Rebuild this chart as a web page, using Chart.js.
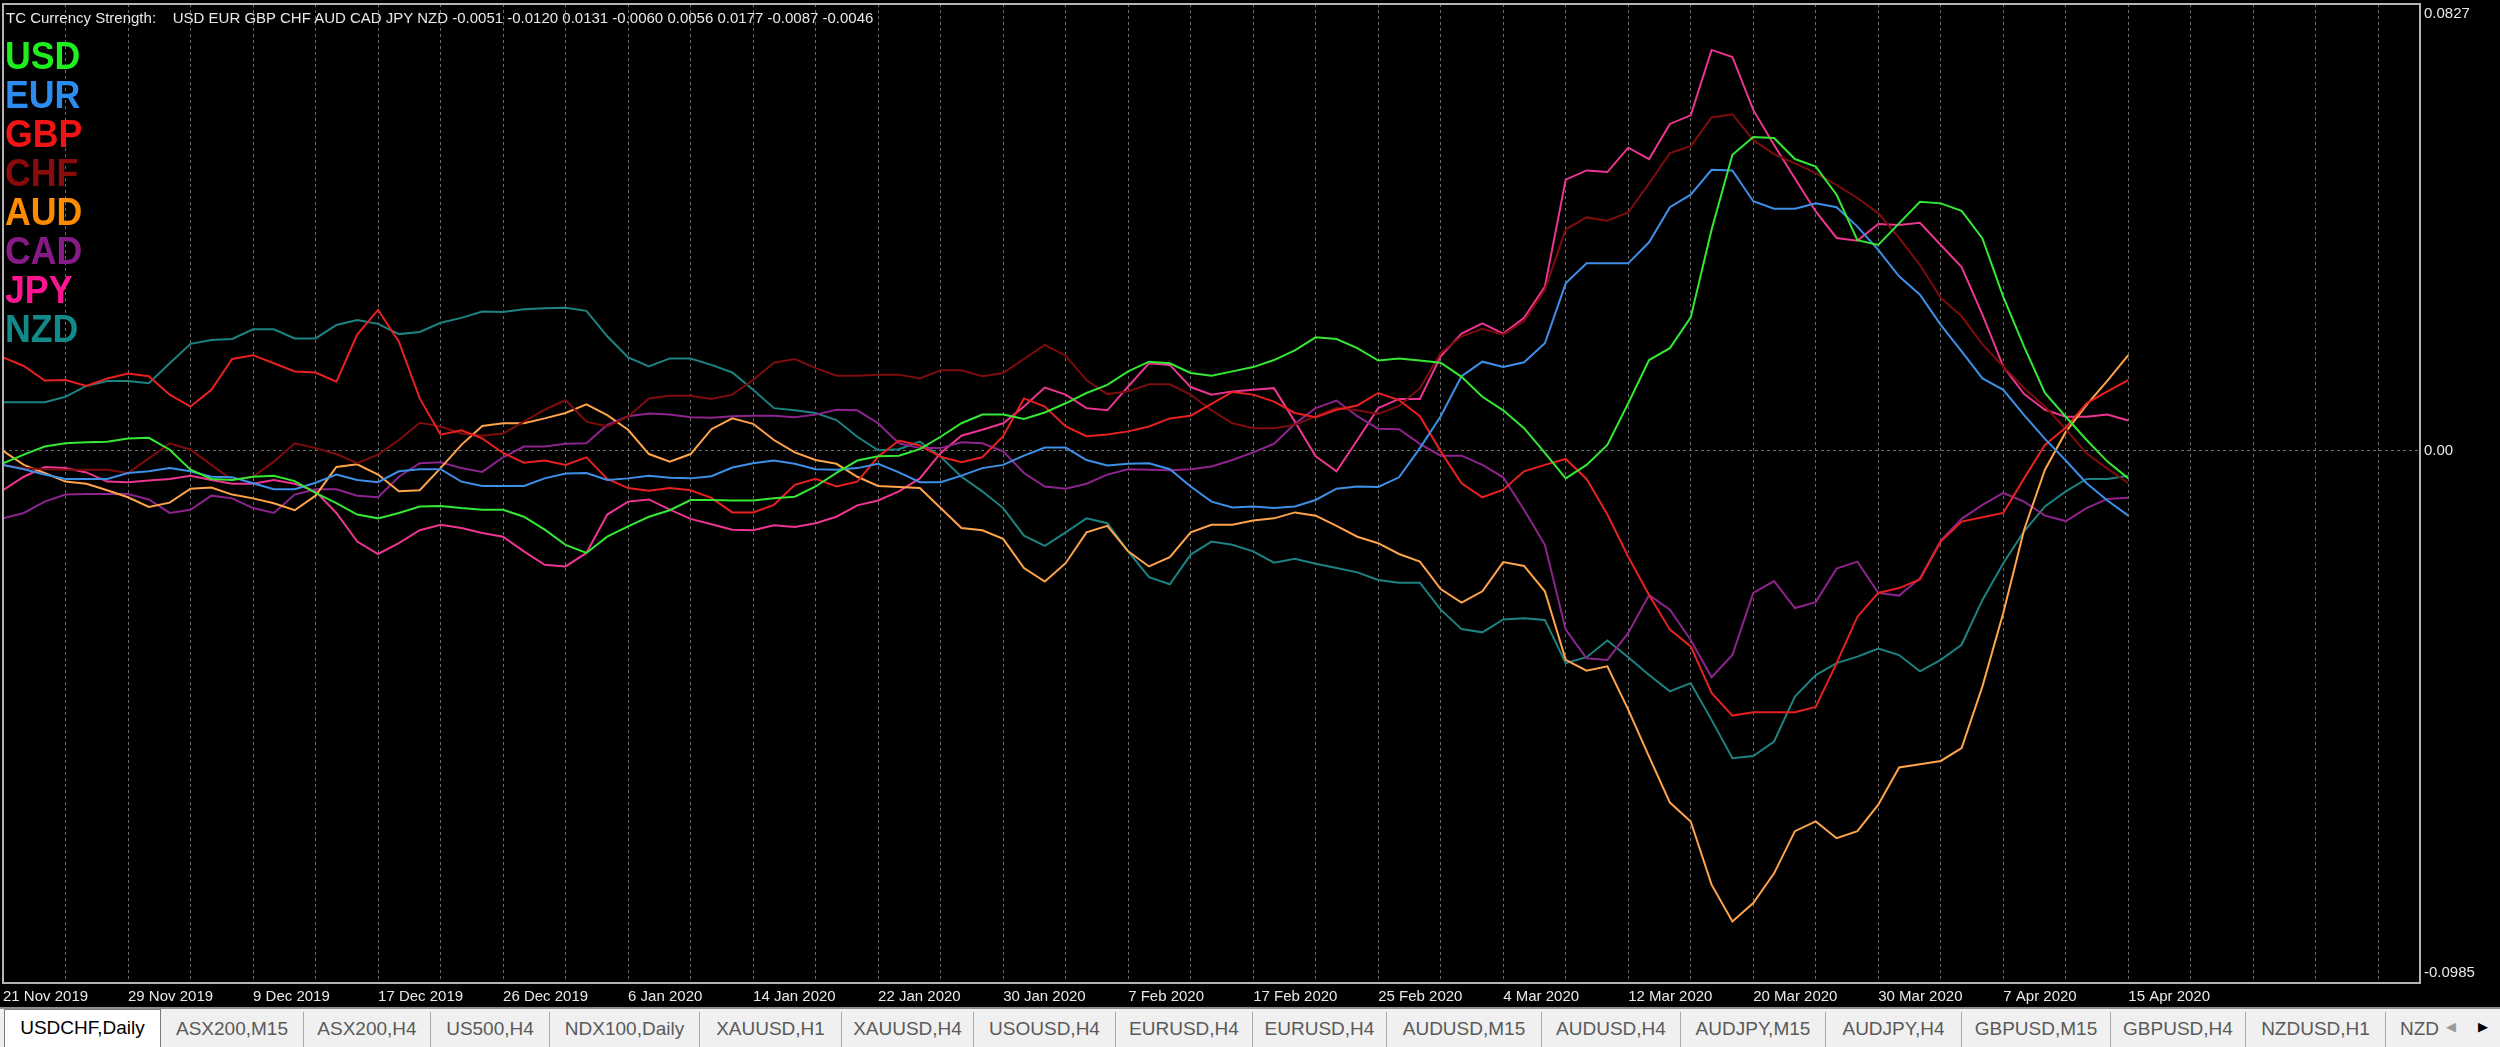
<!DOCTYPE html>
<html>
<head>
<meta charset="utf-8">
<script src="https://cdn.jsdelivr.net/npm/chart.js@4.4.1/dist/chart.umd.min.js"></script>
<style>
html,body{margin:0;padding:0;background:#000;width:2500px;height:1047px;overflow:hidden;font-family:"Liberation Sans",Arial,sans-serif;}
#wrap{position:absolute;left:0;top:0;width:2500px;height:1007px;}
#hdr{position:absolute;left:6px;top:9px;color:#e8e8e8;font-size:15px;line-height:17px;white-space:pre;z-index:2;}
#legend{position:absolute;left:5px;top:37px;z-index:2;}
#legend div{font-weight:bold;font-size:38px;line-height:39px;height:39px;transform:scaleX(0.94);transform-origin:0 50%;}
#tabs{position:absolute;left:0;top:1007px;width:2500px;height:40px;background:#f0f0f0;border-top:2px solid #8c8c8c;box-sizing:border-box;display:flex;padding-left:4px;overflow:hidden;}
.tab{flex:none;box-sizing:border-box;height:35px;margin-top:3px;border-right:1px solid #a8a8a8;color:#5a5a5a;font-size:19px;line-height:33px;text-align:center;white-space:nowrap;overflow:hidden;}
.tab.active{background:#fff;color:#000;border:1px solid #7a7a7a;border-bottom:none;margin-top:0;height:38px;line-height:36px;}
#arrows{position:absolute;left:2440px;top:1009px;width:60px;height:38px;background:#f0f0f0;font-size:13px;line-height:36px;}
#arrows span{position:absolute;top:0;}
</style>
</head>
<body>
<div id="wrap"><canvas id="c" width="2500" height="1007"></canvas></div>
<div id="hdr">TC Currency Strength:    USD EUR GBP CHF AUD CAD JPY NZD -0.0051 -0.0120 0.0131 -0.0060 0.0056 0.0177 -0.0087 -0.0046</div>
<div id="legend"></div>
<div id="tabs">
<div class="tab active" style="width:157px">USDCHF,Daily</div>
<div class="tab" style="width:143px">ASX200,M15</div>
<div class="tab" style="width:127px">ASX200,H4</div>
<div class="tab" style="width:119px">US500,H4</div>
<div class="tab" style="width:150px">NDX100,Daily</div>
<div class="tab" style="width:142px">XAUUSD,H1</div>
<div class="tab" style="width:132px">XAUUSD,H4</div>
<div class="tab" style="width:142px">USOUSD,H4</div>
<div class="tab" style="width:137px">EURUSD,H4</div>
<div class="tab" style="width:134px">EURUSD,H4</div>
<div class="tab" style="width:155px">AUDUSD,M15</div>
<div class="tab" style="width:139px">AUDUSD,H4</div>
<div class="tab" style="width:145px">AUDJPY,M15</div>
<div class="tab" style="width:136px">AUDJPY,H4</div>
<div class="tab" style="width:149px">GBPUSD,M15</div>
<div class="tab" style="width:135px">GBPUSD,H4</div>
<div class="tab" style="width:140px">NZDUSD,H1</div>
<div class="tab" style="width:80px;text-align:left;padding-left:14px;border-right:none">NZDUSD,H4</div>
</div>
<div id="arrows"><span style="left:6px;color:#9a9a9a">&#9664;</span><span style="left:38px;color:#000">&#9654;</span></div>
<script>
// ---- data ----
const dates = [
 '21 Nov 2019','22 Nov 2019','25 Nov 2019','26 Nov 2019','27 Nov 2019','28 Nov 2019','29 Nov 2019',
 '2 Dec 2019','3 Dec 2019','4 Dec 2019','5 Dec 2019','6 Dec 2019','9 Dec 2019','10 Dec 2019','11 Dec 2019','12 Dec 2019','13 Dec 2019',
 '16 Dec 2019','17 Dec 2019','18 Dec 2019','19 Dec 2019','20 Dec 2019','23 Dec 2019','24 Dec 2019','26 Dec 2019','27 Dec 2019','30 Dec 2019','31 Dec 2019',
 '2 Jan 2020','3 Jan 2020','6 Jan 2020','7 Jan 2020','8 Jan 2020','9 Jan 2020','10 Jan 2020','13 Jan 2020','14 Jan 2020','15 Jan 2020','16 Jan 2020','17 Jan 2020',
 '20 Jan 2020','21 Jan 2020','22 Jan 2020','23 Jan 2020','24 Jan 2020','27 Jan 2020','28 Jan 2020','29 Jan 2020','30 Jan 2020','31 Jan 2020',
 '3 Feb 2020','4 Feb 2020','5 Feb 2020','6 Feb 2020','7 Feb 2020','10 Feb 2020','11 Feb 2020','12 Feb 2020','13 Feb 2020','14 Feb 2020',
 '17 Feb 2020','18 Feb 2020','19 Feb 2020','20 Feb 2020','21 Feb 2020','24 Feb 2020','25 Feb 2020','26 Feb 2020','27 Feb 2020','28 Feb 2020',
 '2 Mar 2020','3 Mar 2020','4 Mar 2020','5 Mar 2020','6 Mar 2020','9 Mar 2020','10 Mar 2020','11 Mar 2020','12 Mar 2020','13 Mar 2020',
 '16 Mar 2020','17 Mar 2020','18 Mar 2020','19 Mar 2020','20 Mar 2020','23 Mar 2020','24 Mar 2020','25 Mar 2020','26 Mar 2020','27 Mar 2020',
 '30 Mar 2020','31 Mar 2020','1 Apr 2020','2 Apr 2020','3 Apr 2020','6 Apr 2020','7 Apr 2020','8 Apr 2020','9 Apr 2020','10 Apr 2020',
 '13 Apr 2020','14 Apr 2020','15 Apr 2020'
];

const usd = [
 -0.0023,-0.0007,0.0008,0.0014,0.0016,0.0017,0.0023,0.0024,0.0002,-0.0035,
 -0.0052,-0.0054,-0.0048,-0.0046,-0.0056,-0.0078,-0.0097,-0.0118,-0.0125,-0.0115,
 -0.0103,-0.0102,-0.0106,-0.0109,-0.0109,-0.0122,-0.0146,-0.0174,-0.0189,-0.0159,
 -0.0140,-0.0122,-0.0110,-0.0091,-0.0091,-0.0092,-0.0092,-0.0088,-0.0085,-0.0066,
 -0.0041,-0.0018,-0.0010,-0.0009,0.0003,0.0026,0.0051,0.0067,0.0067,0.0059,
 0.0071,0.0088,0.0107,0.0122,0.0147,0.0165,0.0162,0.0144,0.0139,0.0147,
 0.0155,0.0168,0.0186,0.0210,0.0207,0.0190,0.0167,0.0171,0.0167,0.0163,
 0.0137,0.0100,0.0075,0.0042,-0.0004,-0.0051,-0.0026,0.0011,0.0088,0.0168,
 0.0190,0.0247,0.0409,0.0548,0.0581,0.0579,0.0540,0.0526,0.0474,0.0390,
 0.0381,0.0421,0.0461,0.0458,0.0444,0.0393,0.0285,0.0193,0.0107,0.0063,
 0.0020,-0.0020,-0.0051
];
const eur = [
 -0.0026,-0.0034,-0.0044,-0.0052,-0.0052,-0.0052,-0.0041,-0.0038,-0.0032,-0.0038,
 -0.0048,-0.0049,-0.0060,-0.0071,-0.0071,-0.0059,-0.0044,-0.0054,-0.0058,-0.0038,
 -0.0034,-0.0034,-0.0057,-0.0065,-0.0065,-0.0065,-0.0051,-0.0042,-0.0041,-0.0054,
 -0.0051,-0.0046,-0.0050,-0.0051,-0.0047,-0.0031,-0.0023,-0.0018,-0.0024,-0.0034,
 -0.0035,-0.0032,-0.0024,-0.0040,-0.0058,-0.0058,-0.0046,-0.0032,-0.0026,-0.0009,
 0.0006,0.0006,-0.0017,-0.0027,-0.0024,-0.0023,-0.0034,-0.0066,-0.0094,-0.0105,
 -0.0103,-0.0106,-0.0103,-0.0091,-0.0070,-0.0066,-0.0067,-0.0049,0.0005,0.0064,
 0.0138,0.0165,0.0155,0.0164,0.0199,0.0310,0.0347,0.0347,0.0347,0.0386,
 0.0451,0.0474,0.0520,0.0519,0.0462,0.0448,0.0448,0.0458,0.0451,0.0415,
 0.0372,0.0323,0.0289,0.0233,0.0184,0.0134,0.0113,0.0066,0.0022,-0.0018,
 -0.0060,-0.0092,-0.0120
];
const gbp = [
 0.0173,0.0157,0.0130,0.0131,0.0120,0.0134,0.0143,0.0138,0.0104,0.0082,
 0.0113,0.0170,0.0177,0.0162,0.0147,0.0145,0.0128,0.0215,0.0261,0.0202,
 0.0097,0.0030,0.0038,0.0023,-0.0004,-0.0022,-0.0018,-0.0026,-0.0012,-0.0052,
 -0.0069,-0.0074,-0.0069,-0.0073,-0.0087,-0.0114,-0.0114,-0.0100,-0.0063,-0.0052,
 -0.0066,-0.0057,-0.0011,0.0019,0.0010,-0.0011,-0.0021,-0.0012,0.0027,0.0097,
 0.0082,0.0045,0.0027,0.0030,0.0036,0.0045,0.0060,0.0065,0.0087,0.0109,
 0.0104,0.0091,0.0070,0.0062,0.0076,0.0084,0.0107,0.0094,0.0064,-0.0001,
 -0.0060,-0.0086,-0.0072,-0.0038,-0.0026,-0.0015,-0.0052,-0.0118,-0.0196,-0.0267,
 -0.0331,-0.0362,-0.0448,-0.0490,-0.0484,-0.0484,-0.0484,-0.0474,-0.0393,-0.0307,
 -0.0263,-0.0254,-0.0238,-0.0168,-0.0131,-0.0123,-0.0115,-0.0051,0.0011,0.0043,
 0.0088,0.0110,0.0131
];
const chf = [
 -0.0026,-0.0032,-0.0034,-0.0035,-0.0035,-0.0035,-0.0041,-0.0014,0.0014,0.0002,
 -0.0026,-0.0054,-0.0048,-0.0020,0.0014,0.0005,-0.0006,-0.0023,-0.0007,0.0020,
 0.0052,0.0045,0.0032,0.0028,0.0032,0.0054,0.0076,0.0094,0.0054,0.0045,
 0.0063,0.0097,0.0102,0.0102,0.0096,0.0104,0.0131,0.0163,0.0170,0.0153,
 0.0139,0.0139,0.0141,0.0141,0.0134,0.0149,0.0149,0.0138,0.0144,0.0170,
 0.0196,0.0176,0.0131,0.0105,0.0110,0.0123,0.0123,0.0104,0.0075,0.0051,
 0.0042,0.0042,0.0048,0.0064,0.0079,0.0075,0.0068,0.0083,0.0116,0.0181,
 0.0212,0.0226,0.0215,0.0240,0.0298,0.0410,0.0432,0.0426,0.0441,0.0495,
 0.0551,0.0564,0.0617,0.0623,0.0575,0.0549,0.0532,0.0514,0.0492,0.0468,
 0.0440,0.0394,0.0344,0.0283,0.0249,0.0197,0.0156,0.0116,0.0082,0.0040,
 -0.0005,-0.0033,-0.0060
];
const aud = [
 0.0000,-0.0026,-0.0041,-0.0057,-0.0061,-0.0073,-0.0086,-0.0104,-0.0096,-0.0070,
 -0.0068,-0.0081,-0.0088,-0.0097,-0.0110,-0.0083,-0.0030,-0.0025,-0.0044,-0.0075,
 -0.0073,-0.0032,0.0011,0.0046,0.0051,0.0051,0.0060,0.0070,0.0086,0.0066,
 0.0039,-0.0006,-0.0020,-0.0006,0.0040,0.0060,0.0050,0.0020,-0.0003,-0.0017,
 -0.0024,-0.0048,-0.0065,-0.0067,-0.0069,-0.0106,-0.0143,-0.0147,-0.0163,-0.0217,
 -0.0242,-0.0208,-0.0151,-0.0139,-0.0186,-0.0214,-0.0197,-0.0151,-0.0137,-0.0137,
 -0.0129,-0.0125,-0.0114,-0.0120,-0.0139,-0.0159,-0.0171,-0.0191,-0.0205,-0.0256,
 -0.0281,-0.0260,-0.0206,-0.0213,-0.0260,-0.0387,-0.0407,-0.0399,-0.0479,-0.0566,
 -0.0651,-0.0686,-0.0803,-0.0871,-0.0837,-0.0782,-0.0704,-0.0686,-0.0717,-0.0704,
 -0.0655,-0.0586,-0.0580,-0.0574,-0.0550,-0.0436,-0.0300,-0.0146,-0.0035,0.0035,
 0.0085,0.0130,0.0177
];
const cad = [
 -0.0125,-0.0115,-0.0094,-0.0081,-0.0080,-0.0080,-0.0080,-0.0090,-0.0115,-0.0109,
 -0.0083,-0.0088,-0.0106,-0.0115,-0.0081,-0.0071,-0.0071,-0.0083,-0.0086,-0.0048,
 -0.0023,-0.0021,-0.0032,-0.0039,-0.0012,0.0008,0.0008,0.0013,0.0014,0.0048,
 0.0064,0.0069,0.0067,0.0062,0.0061,0.0064,0.0065,0.0065,0.0062,0.0067,
 0.0076,0.0075,0.0051,0.0014,0.0005,0.0005,0.0016,0.0014,-0.0001,-0.0041,
 -0.0066,-0.0070,-0.0061,-0.0044,-0.0034,-0.0035,-0.0036,-0.0034,-0.0029,-0.0017,
 -0.0003,0.0013,0.0050,0.0079,0.0093,0.0064,0.0041,0.0040,0.0013,-0.0009,
 -0.0009,-0.0026,-0.0049,-0.0109,-0.0174,-0.0331,-0.0384,-0.0387,-0.0337,-0.0267,
 -0.0294,-0.0350,-0.0419,-0.0378,-0.0263,-0.0241,-0.0291,-0.0280,-0.0218,-0.0205,
 -0.0263,-0.0268,-0.0236,-0.0166,-0.0126,-0.0100,-0.0078,-0.0094,-0.0120,-0.0130,
 -0.0106,-0.0089,-0.0087
];
const jpy = [
 -0.0073,-0.0048,-0.0030,-0.0032,-0.0040,-0.0057,-0.0058,-0.0055,-0.0052,-0.0046,
 -0.0054,-0.0061,-0.0061,-0.0054,-0.0061,-0.0075,-0.0115,-0.0168,-0.0191,-0.0171,
 -0.0147,-0.0137,-0.0143,-0.0152,-0.0159,-0.0186,-0.0211,-0.0214,-0.0189,-0.0118,
 -0.0094,-0.0090,-0.0109,-0.0126,-0.0136,-0.0146,-0.0147,-0.0138,-0.0141,-0.0134,
 -0.0122,-0.0101,-0.0092,-0.0075,-0.0051,-0.0004,0.0028,0.0039,0.0051,0.0082,
 0.0117,0.0104,0.0079,0.0075,0.0119,0.0162,0.0159,0.0118,0.0104,0.0110,
 0.0113,0.0116,0.0054,-0.0010,-0.0038,0.0020,0.0079,0.0096,0.0096,0.0175,
 0.0217,0.0236,0.0217,0.0246,0.0304,0.0502,0.0519,0.0516,0.0561,0.0540,
 0.0605,0.0621,0.0742,0.0729,0.0631,0.0566,0.0504,0.0443,0.0394,0.0389,
 0.0420,0.0418,0.0422,0.0381,0.0340,0.0252,0.0156,0.0105,0.0076,0.0063,
 0.0063,0.0067,0.0056
];
const nzd = [
 0.0090,0.0090,0.0090,0.0100,0.0120,0.0129,0.0129,0.0125,0.0162,0.0198,
 0.0205,0.0207,0.0225,0.0225,0.0208,0.0208,0.0233,0.0242,0.0235,0.0216,
 0.0220,0.0237,0.0246,0.0258,0.0257,0.0262,0.0264,0.0265,0.0259,0.0212,
 0.0173,0.0156,0.0171,0.0171,0.0159,0.0145,0.0113,0.0079,0.0075,0.0070,
 0.0057,0.0026,0.0001,0.0003,0.0017,-0.0011,-0.0048,-0.0075,-0.0106,-0.0157,
 -0.0176,-0.0151,-0.0125,-0.0134,-0.0186,-0.0234,-0.0247,-0.0192,-0.0168,-0.0174,
 -0.0186,-0.0207,-0.0200,-0.0209,-0.0217,-0.0225,-0.0239,-0.0244,-0.0244,-0.0294,
 -0.0330,-0.0336,-0.0312,-0.0310,-0.0313,-0.0393,-0.0382,-0.0351,-0.0382,-0.0415,
 -0.0445,-0.0430,-0.0498,-0.0569,-0.0565,-0.0538,-0.0455,-0.0415,-0.0393,-0.0381,
 -0.0366,-0.0378,-0.0408,-0.0387,-0.0359,-0.0276,-0.0208,-0.0149,-0.0103,-0.0075,
 -0.0052,-0.0052,-0.0046
];

const currencyNames = ['USD','EUR','GBP','CHF','AUD','CAD','JPY','NZD'];
const currencyValues = [usd, eur, gbp, chf, aud, cad, jpy, nzd];
const currencyColors = ['#1ef01e','#2b8cf2','#f01414','#8b0a0a','#ff8c00','#861a86','#ff1493','#128a8a'];
const lineColors = ['#34e834','#3d8fe8','#e82020','#7e0c0c','#ffa44a','#8d238d','#ec3590','#1d8282'];

const yTickValues = [-0.0985, 0, 0.0827];
const yTickLabels = ['-0.0985', '0.00', '0.0827'];
const xBarsVisible = 116;      // chart width in bars (empty space at right)
const xLabelEvery = 6;
const xGridEvery = 3;

// ---- legend ----
const lg = document.getElementById('legend');
currencyNames.forEach((n, i) => {
  const d = document.createElement('div');
  d.textContent = n; d.style.color = currencyColors[i];
  lg.appendChild(d);
});

// ---- chart ----
const FONT = '"Liberation Sans", Arial, sans-serif';
const framePlugin = {
  id: 'frame',
  afterDraw(chart) {
    const {ctx, chartArea: a} = chart;
    ctx.save();
    ctx.strokeStyle = '#b4b4b4';
    ctx.lineWidth = 2;
    ctx.strokeRect(a.left, a.top, a.right - a.left, a.bottom - a.top);
    ctx.restore();
  }
};

new Chart(document.getElementById('c'), {
  type: 'line',
  data: {
    datasets: currencyNames.map((n, k) => ({
      label: n,
      data: currencyValues[k].map((v, i) => ({x: i, y: v})),
      borderColor: lineColors[k],
      borderWidth: 2,
      pointRadius: 0,
      tension: 0,
      fill: false
    }))
  },
  options: {
    responsive: false,
    animation: false,
    devicePixelRatio: 1,
    layout: {padding: {left: 3, top: 4, right: 0, bottom: 0}},
    plugins: {legend: {display: false}, tooltip: {enabled: false}},
    scales: {
      x: {
        type: 'linear',
        min: 0,
        max: xBarsVisible,
        afterFit: s => { s.height = 24; s.paddingLeft = 0; s.paddingRight = 0; },
        grid: {
          drawTicks: false,
          lineWidth: 1,
          color: c => (c.tick && c.tick.value > 0 && c.tick.value % xGridEvery === 0) ? '#6c6c6c' : 'rgba(0,0,0,0)'
        },
        border: {display: false, dash: [3, 3]},
        ticks: {
          stepSize: 1,
          autoSkip: false,
          includeBounds: false,
          align: 'start',
          maxRotation: 0,
          minRotation: 0,
          padding: 5,
          color: '#e8e8e8',
          font: {family: FONT, size: 15},
          callback: v => (v % xLabelEvery === 0 && dates[v]) ? dates[v] : ''
        }
      },
      y: {
        position: 'right',
        min: yTickValues[0],
        max: yTickValues[2],
        afterFit: s => { s.width = 80; s.paddingTop = 0; s.paddingBottom = 0; },
        afterBuildTicks: s => { s.ticks = yTickValues.map(v => ({value: v})); },
        grid: {
          drawTicks: false,
          lineWidth: 1,
          color: c => (c.tick && c.tick.value === 0) ? '#6c6c6c' : 'rgba(0,0,0,0)'
        },
        border: {display: false, dash: [3, 3]},
        ticks: {
          padding: 4,
          color: '#e8e8e8',
          font: {family: FONT, size: 15, lineHeight: '20px'},
          callback: (v, i) => {
            const t = yTickLabels[i];
            if (i === 0) return [t, ''];
            if (i === yTickLabels.length - 1) return ['', t];
            return t;
          }
        }
      }
    }
  },
  plugins: [framePlugin]
});
</script>
</body>
</html>
